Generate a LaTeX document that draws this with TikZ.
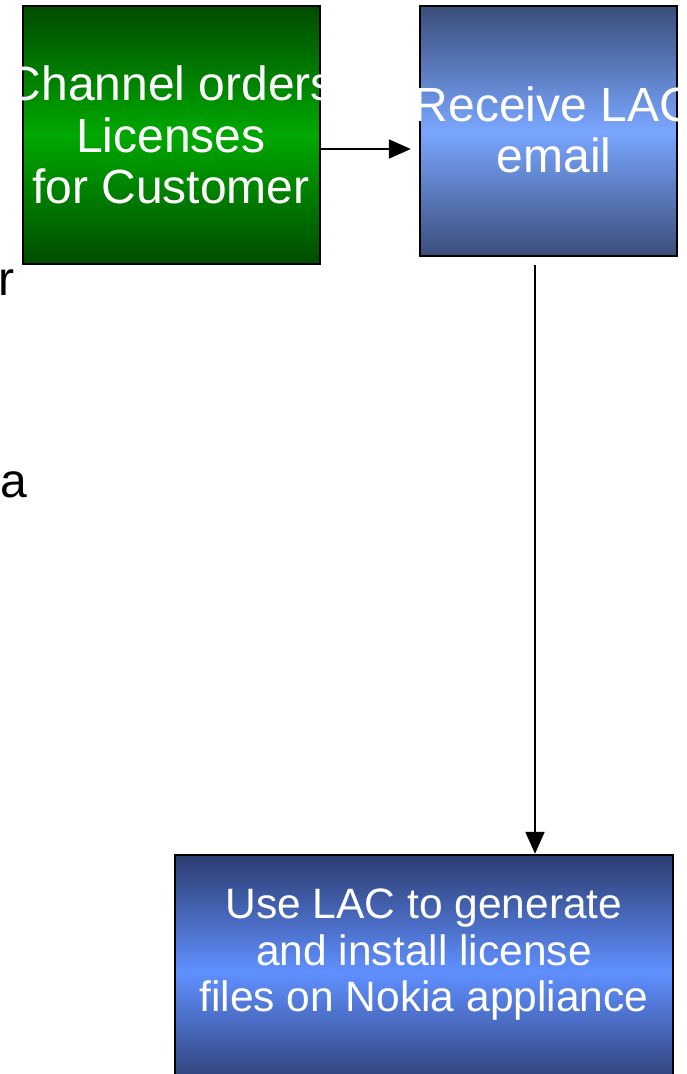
\documentclass[tikz,border=0pt]{standalone}
\usepackage{fontspec}
\setmainfont{Liberation Sans}
\usepackage{tikz}
\usetikzlibrary{arrows.meta}
\usetikzlibrary{shapes}

\definecolor{chandark}{RGB}{0,76,0}
\definecolor{chanmid}{RGB}{0,168,0}
\definecolor{lacdark}{RGB}{58,78,122}
\definecolor{lacmid}{RGB}{122,166,255}
\definecolor{usedark}{RGB}{44,60,112}
\definecolor{usemid}{RGB}{96,144,255}

\begin{document}
\begin{tikzpicture}[>={Triangle[length=22pt, width=19pt]}, x=1pt, y=-1pt]
    \tikzstyle{box} = [draw, line width=2.5pt, rectangle, inner sep=0pt]
    \tikzstyle{boxtext} = [white, align=center, inner sep=0pt,
	font=\fontsize{48}{51.5}\selectfont]

	\useasboundingbox (0,0) rectangle (687,1074);

	\begin{scope}
		\path[->, line width=2.2pt]
			node[box, minimum width=297pt, minimum height=258pt,
				top color=chandark, bottom color=chandark,
				middle color=chanmid] (chan) at (171.5,135) {}
			node[box, minimum width=257pt, minimum height=250pt,
				top color=lacdark, bottom color=lacdark,
				middle color=lacmid] (lac) at (548.5,131) {}
			node[box, minimum width=498pt, minimum height=234pt,
				top color=usedark, bottom color=usedark,
				middle color=usemid] (use) at (424,972) {}

			node[boxtext] (chantext) at (171,135)
				{Channel orders\\Licenses\\for Customer}
			node[boxtext] (lactext) at (554,130) {Receive LAC\\email}
			node[boxtext, font=\fontsize{42.5}{46.5}\selectfont] (usetext)
				at (424,955)
				{Use LAC to generate\\and install license\\files on Nokia appliance}

			node[anchor=base west, inner sep=0pt,
				font=\fontsize{48}{51.5}\selectfont] (cutr) at (-3,295) {r}
			node[anchor=base west, inner sep=0pt,
				font=\fontsize{48}{51.5}\selectfont] (cuta) at (-1,497) {a}

			([yshift=-14pt]chan.east) edge[shorten >=8pt]
				([yshift=-14pt]chan.east -| lac.west)
			([xshift=-13.5pt]lac.south) edge[shorten <=8pt]
				([xshift=-13.5pt]lac.south |- use.north)
		;
	\end{scope}
\end{tikzpicture}
\end{document}
